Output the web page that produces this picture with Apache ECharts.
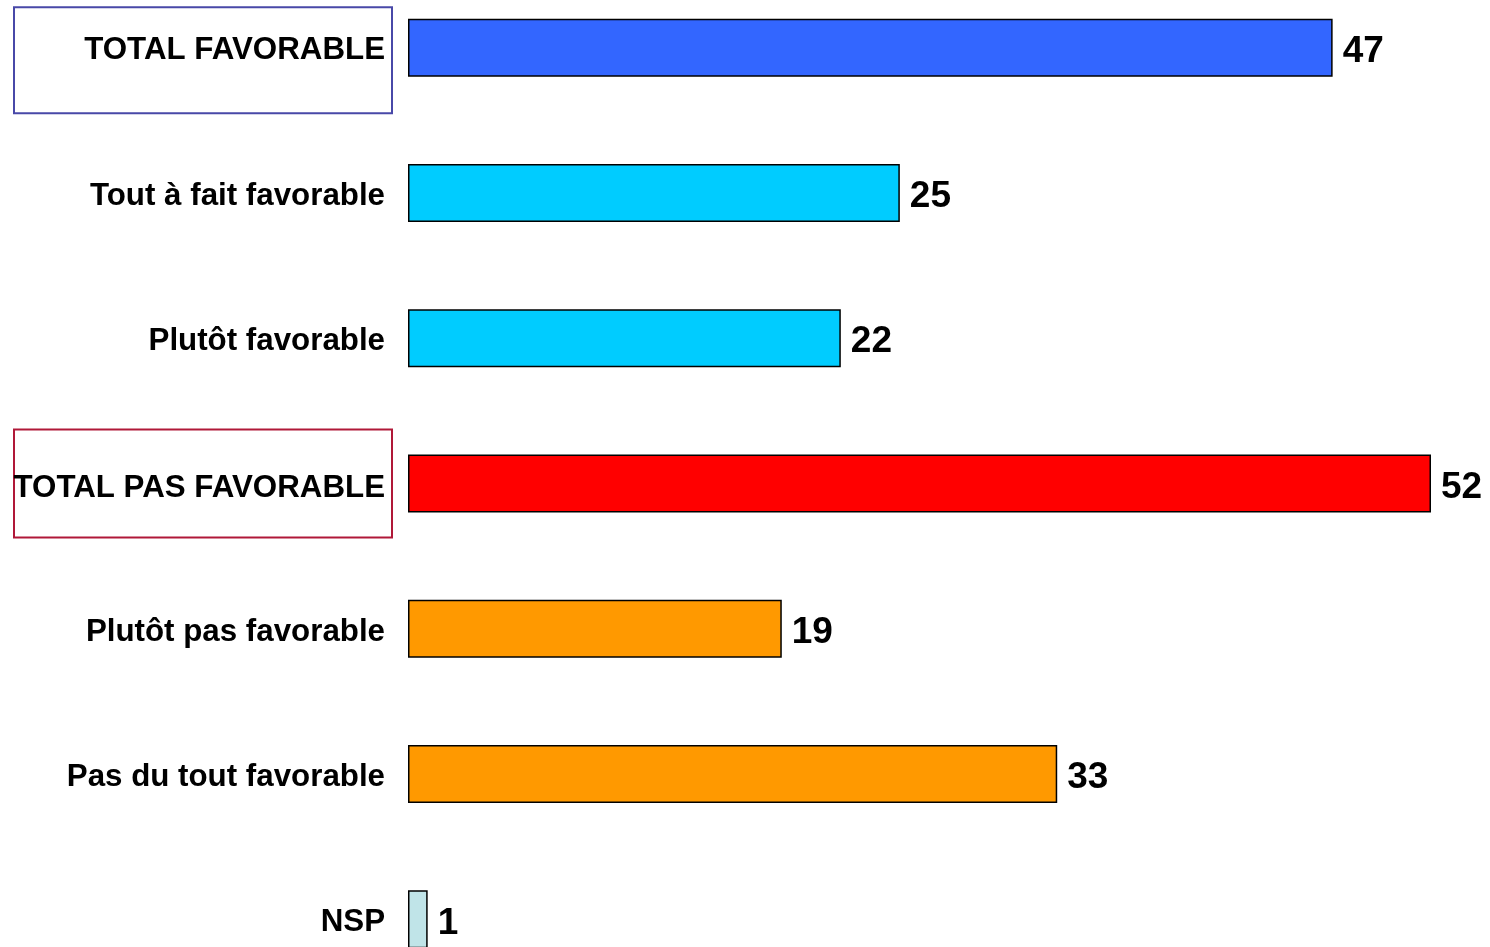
<!DOCTYPE html>
<html>
<head>
<meta charset="utf-8">
<script src="https://cdn.jsdelivr.net/npm/echarts@6/dist/echarts.min.js"></script>
<style>
html,body{margin:0;padding:0;background:#fff;}
#chart{width:1490px;height:947px;}
</style>
</head>
<body>
<div id="chart"></div>
<script>
const categories = ['TOTAL FAVORABLE', 'Tout à fait favorable', 'Plutôt favorable', 'TOTAL PAS FAVORABLE', 'Plutôt pas favorable', 'Pas du tout favorable', 'NSP'];
const values = [47, 25, 22, 52, 19, 33, 1];
const barColors = ['#3366FF', '#00CCFF', '#00CCFF', '#FF0000', '#FF9900', '#FF9900', '#C0E4E8'];

const chart = echarts.init(document.getElementById('chart'), null, {renderer: 'canvas'});
const FONT = '"Liberation Sans", Arial, sans-serif';
const FS = 31.3;

chart.setOption({
  animation: false,
  grid: {left: 408, width: 1023, top: -25, height: 1017, containLabel: false, outerBoundsMode: 'none'},
  xAxis: {
    type: 'value', min: 0, max: 52, show: false
  },
  yAxis: {
    type: 'category', inverse: true, data: categories,
    axisLine: {show: false}, axisTick: {show: false}, splitLine: {show: false},
    axisLabel: {
      margin: 16,
      fontFamily: FONT, fontSize: FS, fontWeight: 'bold', color: '#000',
      formatter: function (v, i) {
        if (i === 0) return '{sp| }\n{b1|' + v + '}';
        if (i === 3) return '{b2|' + v + '}';
        return '{n|' + v + '}';
      },
      rich: {
        n: {fontFamily: FONT, fontSize: FS, fontWeight: 'bold', color: '#000', padding: [7, 7, 0, 0]},
        sp: {fontSize: 10, lineHeight: 25, height: 25},
        b1: {fontFamily: FONT, fontSize: FS, fontWeight: 'bold', color: '#000', lineHeight: 30,
             width: 371, align: 'right', padding: [28, 7, 47, 0],
             borderColor: '#4848A8', borderWidth: 2},
        b2: {fontFamily: FONT, fontSize: FS, fontWeight: 'bold', color: '#000', lineHeight: 30,
             width: 371, align: 'right', padding: [43, 7, 34, 0],
             borderColor: '#B01838', borderWidth: 2}
      }
    }
  },
  series: [{
    type: 'bar',
    data: values.map((v, i) => ({value: v, itemStyle: {color: barColors[i]}})),
    barWidth: 58,
    itemStyle: {borderColor: '#000', borderWidth: 1.5},
    label: {
      show: true, position: 'right', distance: 10, offset: [0, 4],
      fontFamily: FONT, fontSize: 37, fontWeight: 'bold', color: '#000'
    }
  }]
});
</script>
</body>
</html>
